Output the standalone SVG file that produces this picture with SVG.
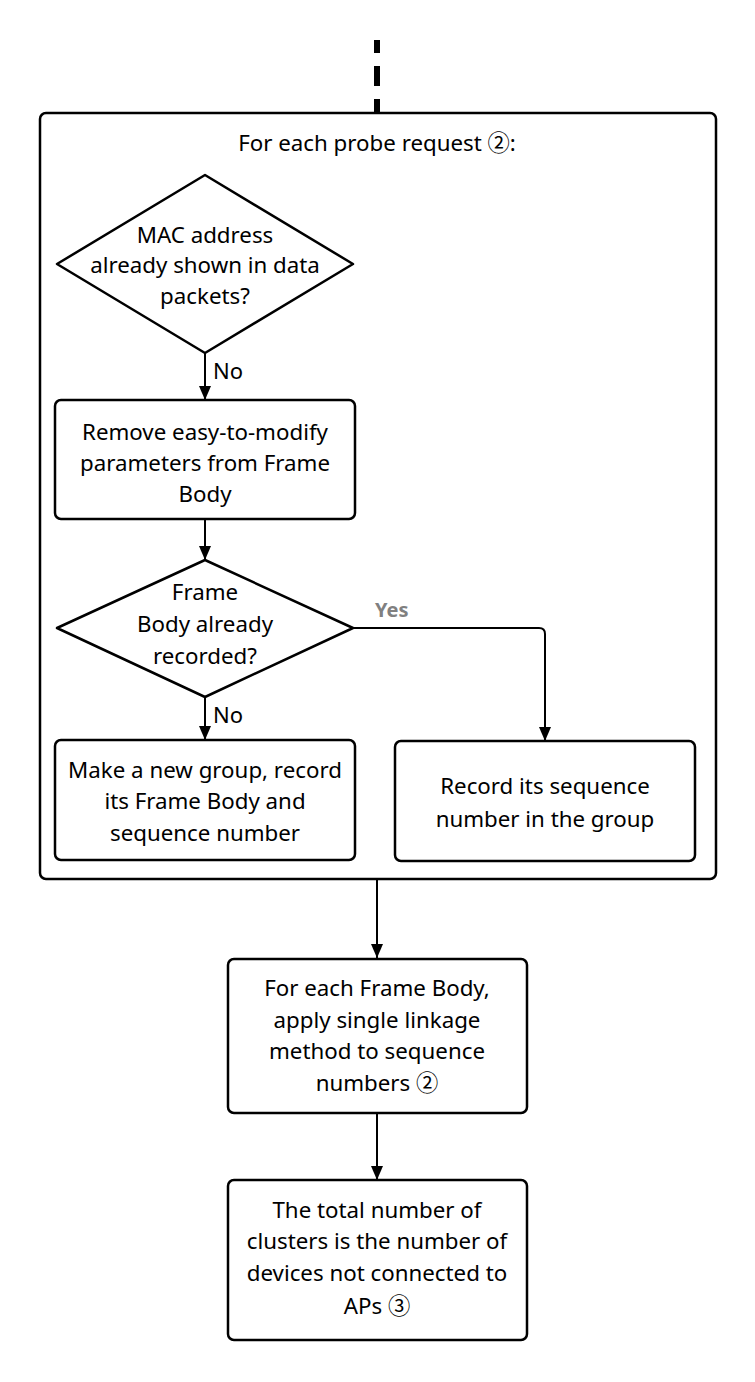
<svg xmlns="http://www.w3.org/2000/svg" width="755" height="1382" viewBox="0 0 755 1382">
<style>
.box{fill:#fff;stroke:#000;stroke-width:2.5}
.cont{fill:none;stroke:#000;stroke-width:2.5}
.t{font-family:"Noto Sans","Noto Sans CJK SC","DejaVu Sans",sans-serif;font-size:22.3px;fill:#000;text-anchor:middle}
.lbl{font-family:"Noto Sans","DejaVu Sans",sans-serif;font-size:22px;fill:#000}
.yes{font-family:"Noto Sans","DejaVu Sans",sans-serif;font-size:20px;font-weight:bold;fill:#808080}
.ln{fill:none;stroke:#000;stroke-width:2}
</style>
<defs>
<marker id="arr" viewBox="0 0 14 12" refX="14" refY="6" markerWidth="14" markerHeight="12" markerUnits="userSpaceOnUse" orient="auto">
<path d="M0,0 L14,6 L0,12 Z" fill="#000"/>
</marker>
</defs>
<g id="container">
<rect class="cont" x="40" y="113" width="676" height="766" rx="6"/>
<text class="t" x="377" y="151">For each probe request ②:</text>
</g>
<g id="connectors">
<path d="M377,40 V53 M377,66 V86 M377,99 V113" stroke="#000" stroke-width="6" fill="none"/>
<path class="ln" d="M205,353 V400" marker-end="url(#arr)"/>
<path class="ln" d="M205,519 V560" marker-end="url(#arr)"/>
<path class="ln" d="M205,697 V740" marker-end="url(#arr)"/>
<path class="ln" d="M353,628 H539 Q545,628 545,634 V741" marker-end="url(#arr)"/>
<path class="ln" d="M377,879 V958" marker-end="url(#arr)"/>
<path class="ln" d="M377,1113 V1180" marker-end="url(#arr)"/>
<text class="lbl" x="213" y="379">No</text>
<text class="lbl" x="213" y="723">No</text>
<text class="yes" x="375" y="617">Yes</text>
</g>
<g id="d1">
<path class="box" stroke-linejoin="round" d="M205,175 L353,264 L205,353 L57,264 Z"/>
<text class="t" x="205" y="243">MAC address</text>
<text class="t" x="205" y="273">already shown in data</text>
<text class="t" x="205" y="304">packets?</text>
</g>
<g id="b1">
<rect class="box" x="55" y="400" width="300" height="119" rx="6"/>
<text class="t" x="205" y="440">Remove easy-to-modify</text>
<text class="t" x="205" y="471">parameters from Frame</text>
<text class="t" x="205" y="502">Body</text>
</g>
<g id="d2">
<path class="box" stroke-linejoin="round" d="M205,560 L353,628 L205,697 L57,628 Z"/>
<text class="t" x="205" y="600">Frame</text>
<text class="t" x="205" y="632">Body already</text>
<text class="t" x="205" y="664">recorded?</text>
</g>
<g id="b3">
<rect class="box" x="55" y="740" width="300" height="120" rx="6"/>
<text class="t" x="205" y="778">Make a new group, record</text>
<text class="t" x="205" y="809">its Frame Body and</text>
<text class="t" x="205" y="841">sequence number</text>
</g>
<g id="b2">
<rect class="box" x="395" y="741" width="300" height="120" rx="6"/>
<text class="t" x="545" y="794">Record its sequence</text>
<text class="t" x="545" y="827">number in the group</text>
</g>
<g id="b4">
<rect class="box" x="228" y="959" width="299" height="154" rx="6"/>
<text class="t" x="377" y="996">For each Frame Body,</text>
<text class="t" x="377" y="1028">apply single linkage</text>
<text class="t" x="377" y="1059">method to sequence</text>
<text class="t" x="377" y="1091">numbers ②</text>
</g>
<g id="b5">
<rect class="box" x="228" y="1180" width="299" height="160" rx="6"/>
<text class="t" x="377" y="1218">The total number of</text>
<text class="t" x="377" y="1249">clusters is the number of</text>
<text class="t" x="377" y="1281">devices not connected to</text>
<text class="t" x="377" y="1314">APs ③</text>
</g>
</svg>
